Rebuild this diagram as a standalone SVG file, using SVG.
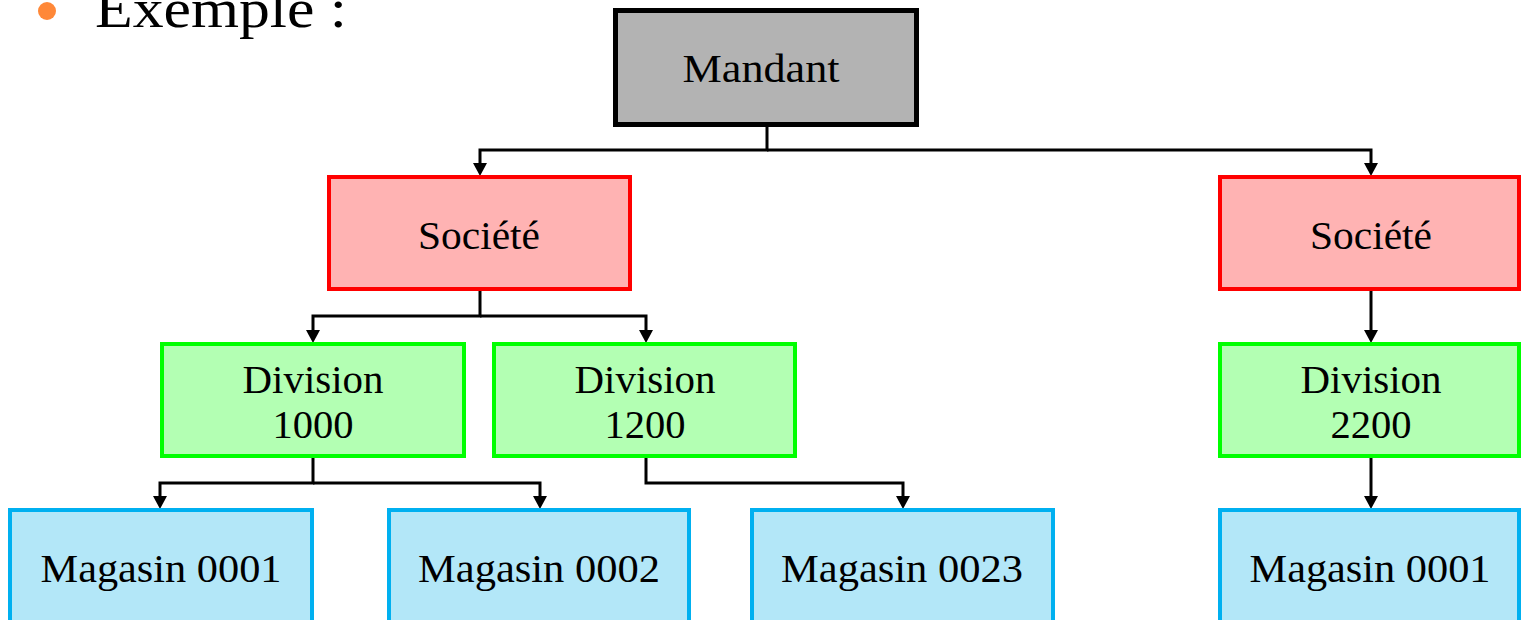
<svg xmlns="http://www.w3.org/2000/svg" width="1521" height="620" viewBox="0 0 1521 620">
<style>
text{font-family:"Liberation Serif","Times New Roman",serif;fill:#000;text-anchor:middle;font-size:40px}
.mandant{fill:#b3b3b3;stroke:#000;stroke-width:5}
.soc{fill:#ffb3b3;stroke:#ff0000;stroke-width:4}
.div{fill:#b3ffb3;stroke:#00ff00;stroke-width:4}
.mag{fill:#b3e7f8;stroke:#00b0f0;stroke-width:4}
.conn path{fill:none;stroke:#000;stroke-width:3;marker-end:url(#arr)}
</style>
<defs>
<marker id="arr" markerUnits="userSpaceOnUse" markerWidth="13" markerHeight="14" viewBox="0 0 13 14" refX="0" refY="7" orient="auto">
<path d="M0,0 L13,7 L0,14 Z" fill="#000"/>
</marker>
</defs>
<rect width="1521" height="620" fill="#fff"/>
<circle cx="47" cy="11" r="9" fill="#ff8838"/>
<text x="221" y="27" style="font-size:54px" textLength="252" lengthAdjust="spacingAndGlyphs">Exemple :</text>

<g class="conn">
<path d="M767,127 V150 H480 V163"/>
<path d="M767,150 H1371 V163"/>
<path d="M480,291 V316 H313 V330"/>
<path d="M480,316 H646 V330"/>
<path d="M1371,291 V330"/>
<path d="M313,458 V483 H160 V496"/>
<path d="M313,483 H540 V496"/>
<path d="M646,458 V483 H903 V496"/>
<path d="M1371,458 V496"/>
</g>

<g id="mandant"><rect class="mandant" x="615.5" y="10.5" width="301" height="114"/><text x="761" y="82" textLength="157" lengthAdjust="spacingAndGlyphs">Mandant</text></g>
<g id="societe1"><rect class="soc" x="329" y="177" width="301" height="112"/><text x="479" y="249" textLength="122" lengthAdjust="spacingAndGlyphs">Société</text></g>
<g id="societe2"><rect class="soc" x="1220" y="177" width="299" height="112"/><text x="1371" y="249" textLength="122" lengthAdjust="spacingAndGlyphs">Société</text></g>
<g id="div1000"><rect class="div" x="162" y="344" width="302" height="112"/><text x="313" y="393" textLength="141" lengthAdjust="spacingAndGlyphs">Division</text><text x="313" y="438" textLength="81" lengthAdjust="spacingAndGlyphs">1000</text></g>
<g id="div1200"><rect class="div" x="494" y="344" width="301" height="112"/><text x="645" y="393" textLength="141" lengthAdjust="spacingAndGlyphs">Division</text><text x="645" y="438" textLength="81" lengthAdjust="spacingAndGlyphs">1200</text></g>
<g id="div2200"><rect class="div" x="1220" y="344" width="299" height="112"/><text x="1371" y="393" textLength="141" lengthAdjust="spacingAndGlyphs">Division</text><text x="1371" y="438" textLength="81" lengthAdjust="spacingAndGlyphs">2200</text></g>
<g id="mag0001"><rect class="mag" x="10" y="510" width="302" height="130"/><text x="161" y="582" textLength="241" lengthAdjust="spacingAndGlyphs">Magasin 0001</text></g>
<g id="mag0002"><rect class="mag" x="389" y="510" width="300" height="130"/><text x="539" y="582" textLength="242" lengthAdjust="spacingAndGlyphs">Magasin 0002</text></g>
<g id="mag0023"><rect class="mag" x="752" y="510" width="301" height="130"/><text x="902" y="582" textLength="242" lengthAdjust="spacingAndGlyphs">Magasin 0023</text></g>
<g id="mag0001b"><rect class="mag" x="1220" y="510" width="299" height="130"/><text x="1370" y="582" textLength="241" lengthAdjust="spacingAndGlyphs">Magasin 0001</text></g>
</svg>
